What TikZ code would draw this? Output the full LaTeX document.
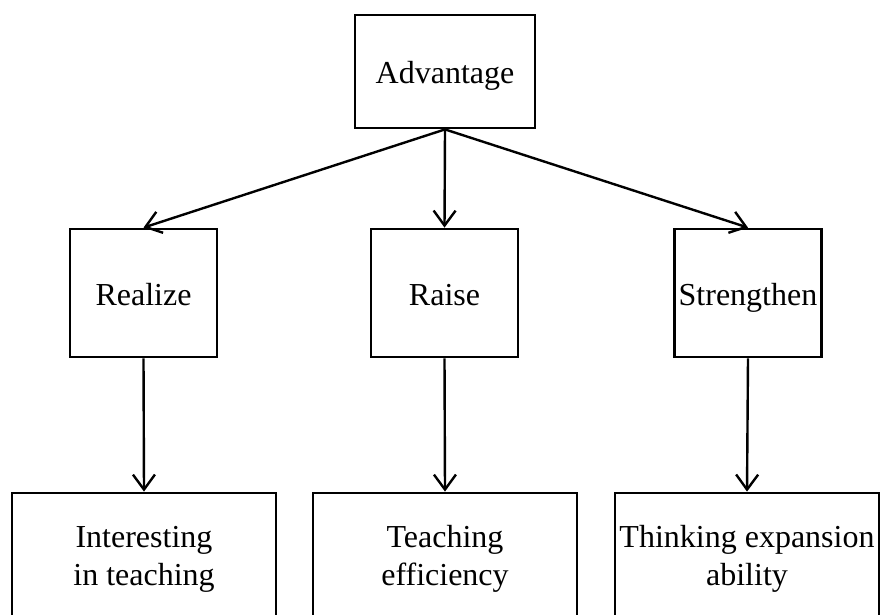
\documentclass[tikz,border=0pt]{standalone}
\usepackage{fontspec}
\setmainfont{Liberation Serif}
\usetikzlibrary{arrows.meta}
\begin{document}
\begin{tikzpicture}[x=1pt,y=-1pt,
  box/.style={draw=black,line width=2.8pt,inner sep=0pt,align=center,
    text height=28pt,text depth=4pt,
    font=\fontsize{32}{37}\selectfont},
  txt/.style={inner sep=0pt,anchor=base,font=\fontsize{32}{37}\selectfont},
  arr/.style={draw=black,line width=2.4pt,-{Straight Barb[length=15pt,width=22pt,line width=2.4pt]}}]
\clip (0,0) rectangle (880,614);
\fill[white] (0,0) rectangle (880,614);
\node[box,minimum width=180pt,minimum height=113pt] (adv) at (445,71.5) {Advantage};
\node[box,minimum width=147pt,minimum height=128pt] (m1) at (143.5,293) {Realize};
\node[box,minimum width=147pt,minimum height=128pt] (m2) at (444.5,293) {Raise};
\node[box,minimum width=147pt,minimum height=128pt] (m3) at (748,293) {Strengthen};
\node[box,minimum width=264pt,minimum height=130pt] (b1) at (144,558) {};
\node[box,minimum width=264pt,minimum height=130pt] (b2) at (445,558) {};
\node[box,minimum width=264pt,minimum height=130pt] (b3) at (747,558) {};
\node[txt] (b1a) at (144,547) {Interesting};
\node[txt] (b1b) at (144,585) {in teaching};
\node[txt] (b2a) at (445,547) {Teaching};
\node[txt] (b2b) at (445,585) {efficiency};
\node[txt] (b3a) at (747,547) {Thinking expansion};
\node[txt] (b3b) at (747,585) {ability};
\draw[arr] (adv.south) -- (m1.north);
\draw[arr] (adv.south) -- (m2.north);
\draw[arr] (adv.south) -- (m3.north);
\draw[arr] (m1.south) -- (b1.north);
\draw[arr] (m2.south) -- (b2.north);
\draw[arr] (m3.south) -- (b3.north);
\end{tikzpicture}
\end{document}
